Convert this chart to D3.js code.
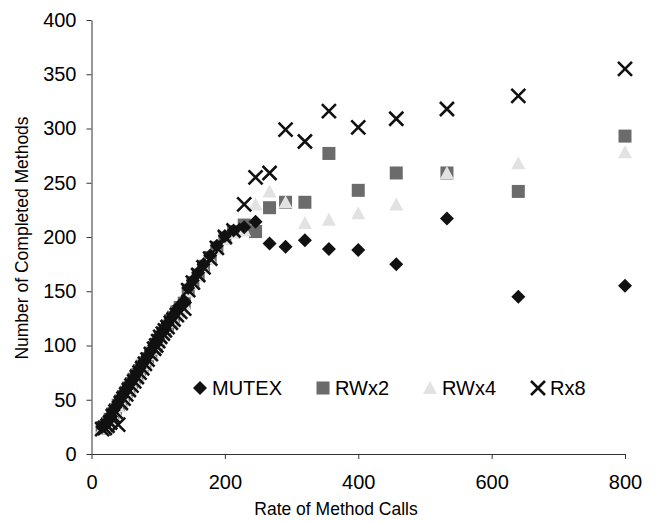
<!DOCTYPE html>
<html><head><meta charset="utf-8">
<script src="https://cdn.jsdelivr.net/npm/d3@7"></script>
<style>body{margin:0;background:#fff} text{font-family:Arial,"Liberation Sans",sans-serif;fill:#000}</style>
</head><body><svg id="c" width="657" height="522"></svg>
<script>
// Rate of Method Calls (x)
const rates = [16,20,24,28,32,36,40,44,48,52,56,60,64,68,72,76,
  80,84,89,94,97,100,103,107,110,114,119,123,128,133,139,
  145,152,160,168,178,188,200,213,
  229,246,267,291,320,356,400,457,533,640,800];
// Number of Completed Methods (y) per series
const mutex = [25,26,30,35,40,43,48,52,56,60,64,67,71,75,79,83,
  86,90,95,100,103,106,110,113,116,120,125,128,133,137,141,
  153,160,167,175,183,192,201,206,
  209,214,194,191,197,189,188,175,217,145,155];
const rwx2 = [24,25,28,32,37,41,45,49,53,57,61,65,69,73,77,81,
  84,88,93,98,101,104,107,111,114,118,123,126,131,135,139,
  151,158,165,173,181,190,199,205,
  211,205,227,232,232,277,243,259,259,242,293];
const rwx4 = [24,24,27,31,36,40,44,48,52,56,60,64,68,72,76,80,
  83,87,92,97,100,103,106,110,113,117,122,125,130,134,138,
  150,157,164,172,180,189,198,204,
  206,230,242,232,213,216,222,230,259,268,278];
const rx8 = [23,24,26,29,35,39,27,47,51,55,59,63,67,71,75,79,
  83,87,92,97,100,104,108,111,114,117,121,124,128,131,134,
  151,158,165,172,180,190,200,206,
  230,255,259,299,288,316,301,309,318,330,355];
const seriesNames = ["MUTEX","RWx2","RWx4","Rx8"];
const xTicks = [0,200,400,600,800];
const yTicks = [0,50,100,150,200,250,300,350,400];

const svg = d3.select("#c");
svg.append("rect").attr("width",657).attr("height",522).attr("fill","#fff");
const x = d3.scaleLinear().domain([0,800]).range([91.5,625]);
const y = d3.scaleLinear().domain([0,400]).range([454,20]);

// axes
const xa = svg.append("g").attr("transform","translate(0,454)")
  .call(d3.axisBottom(x).tickValues(xTicks).tickSize(5).tickSizeOuter(0).tickPadding(16));
const ya = svg.append("g").attr("transform","translate(91.5,0)")
  .call(d3.axisLeft(y).tickValues(yTicks).tickSize(5).tickSizeOuter(0).tickPadding(10));
[xa,ya].forEach(a=>{
  a.select(".domain").attr("stroke","#333");
  a.selectAll(".tick line").attr("stroke","#333");
  a.selectAll("text").attr("font-size",20).attr("font-family","Arial, 'Liberation Sans', sans-serif").attr("fill","#000");
});
xa.selectAll("text").attr("dy","0");
xa.selectAll("text").attr("y",35);

// axis titles
svg.append("text").attr("x",336).attr("y",515).attr("text-anchor","middle")
  .attr("font-size",17.5).text("Rate of Method Calls");
svg.append("text").attr("transform","translate(28,238) rotate(-90)").attr("text-anchor","middle")
  .attr("font-size",17.5).text("Number of Completed Methods");

// marker painters
const painters = {
  MUTEX: (g)=>g.append("path").attr("d","M0,-7L7,0L0,7L-7,0Z").attr("fill","#111"),
  RWx2: (g)=>g.append("rect").attr("x",-6.5).attr("y",-6.5).attr("width",13).attr("height",13).attr("fill","#6b6b6b"),
  RWx4: (g)=>g.append("path").attr("d","M0,-7L7,6L-7,6Z").attr("fill","#e2e2e2"),
  Rx8: (g)=>g.append("path").attr("d","M-7,-7L7,7M7,-7L-7,7").attr("stroke","#111").attr("stroke-width",2.6).attr("fill","none")
};
const dataBy = {MUTEX:mutex, RWx2:rwx2, RWx4:rwx4, Rx8:rx8};
const order = ["RWx2","RWx4","MUTEX","Rx8"];
order.forEach(name=>{
  const vals = dataBy[name];
  const g = svg.append("g");
  rates.forEach((r,i)=>{
    const m = g.append("g").attr("transform",`translate(${x(r)},${y(vals[i])})`);
    painters[name](m);
  });
});

// legend
const legX = [200,323,430,538];
seriesNames.forEach((name,i)=>{
  const m = svg.append("g").attr("transform",`translate(${legX[i]},388)`);
  painters[name](m);
  svg.append("text").attr("x",legX[i]+12).attr("y",395).attr("font-size",20).text(name);
});
</script></body></html>
